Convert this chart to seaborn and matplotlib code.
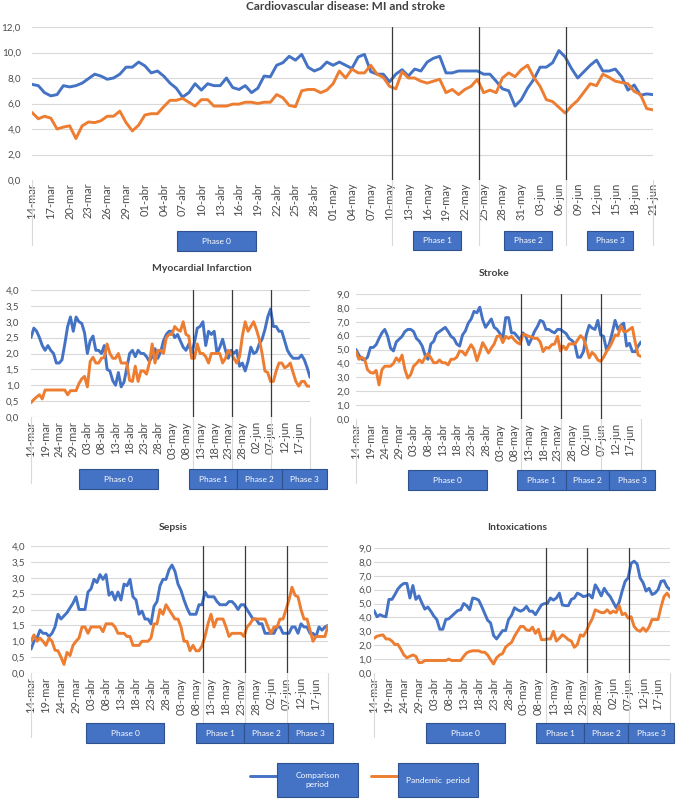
import numpy as np
import pandas as pd
import matplotlib
matplotlib.use("Agg")
import matplotlib.pyplot as plt
import seaborn as sns
from matplotlib.patches import Rectangle
from matplotlib.lines import Line2D
from matplotlib.ticker import FuncFormatter
import matplotlib.transforms as mtransforms

# ---------------- data ----------------
months = [("mar", 14, 31), ("abr", 1, 30), ("may", 1, 31), ("jun", 1, 21)]
dates = [f"{d:02d}-{m}" for m, a, b in months for d in range(a, b + 1)]

series_names = ["Comparison period", "Pandemic period"]

cv_comp = [7.5, 7.4, 6.85, 6.6, 6.7, 7.4, 7.3, 7.4, 7.6, 7.95,
           8.3, 8.15, 7.9, 8.0, 8.3, 8.85, 8.85, 9.25, 8.95, 8.4,
           8.55, 8.15, 7.6, 7.2, 6.5, 6.85, 7.55, 7.05, 7.55, 7.4,
           7.4, 8.0, 7.25, 7.1, 7.4, 6.85, 7.2, 8.15, 8.1, 9.0,
           9.2, 9.7, 9.4, 9.85, 8.85, 8.55, 8.75, 9.25, 9.0, 9.25,
           9.0, 8.75, 9.65, 9.85, 8.5, 8.3, 8.3, 7.7, 8.3, 8.65,
           8.15, 8.7, 8.55, 9.25, 9.55, 9.7, 8.4, 8.4, 8.55, 8.55,
           8.55, 8.55, 8.3, 8.3, 7.75, 7.15, 7.0, 5.8, 6.3, 7.2,
           7.9, 8.85, 8.85, 9.2, 10.15, 9.65, 8.75, 8.0, 8.5, 9.0,
           9.4, 8.55, 8.55, 8.7, 8.1, 7.05, 7.45, 6.65, 6.75, 6.7]
cv_pand = [5.3, 4.8, 5.0, 4.85, 4.0, 4.15, 4.25, 3.25, 4.25, 4.55,
           4.5, 4.65, 5.0, 5.0, 5.4, 4.5, 3.85, 4.3, 5.1, 5.2,
           5.2, 5.75, 6.25, 6.25, 6.4, 6.1, 5.8, 6.3, 6.3, 5.8,
           5.8, 5.8, 5.95, 5.95, 6.1, 6.1, 6.0, 6.1, 6.1, 6.7,
           6.45, 5.85, 5.75, 7.0, 7.1, 7.1, 6.85, 7.05, 7.55, 8.55,
           8.0, 8.7, 8.4, 8.4, 9.0, 8.3, 8.05, 7.35, 7.15, 8.5,
           8.0, 8.0, 7.75, 7.6, 7.75, 7.9, 6.85, 7.1, 6.7, 7.1,
           7.35, 7.9, 6.85, 7.05, 6.85, 8.0, 8.4, 8.1, 8.65, 9.0,
           8.05, 7.35, 6.3, 6.15, 5.7, 5.25, 5.8, 6.25, 6.9, 7.55,
           7.4, 8.3, 8.05, 7.75, 7.65, 7.55, 6.95, 6.7, 5.6, 5.5]

mi_comp = [2.5, 2.8, 2.7, 2.5, 2.25, 2.1, 2.25, 2.1, 2.0, 1.7,
           1.7, 1.8, 2.3, 2.85, 3.15, 2.7, 3.15, 3.0, 2.95, 2.65,
           2.0, 2.4, 2.55, 2.1, 2.1, 2.0, 2.25, 1.5, 1.45, 1.15,
           1.0, 1.4, 0.95, 1.1, 1.55, 2.0, 2.1, 1.9, 2.1, 2.0,
           2.0, 1.9, 1.75, 1.9, 2.15, 1.85, 2.05, 2.4, 2.6, 2.7,
           2.7, 2.5, 2.6, 2.4, 2.2, 2.1, 2.3, 2.0, 2.35, 2.8,
           2.85, 3.0, 2.25, 2.7, 2.6, 2.7, 2.0, 2.2, 2.45, 2.1,
           1.85, 2.1, 2.0, 2.1, 1.6, 1.7, 1.45, 1.75, 2.2, 2.0,
           2.05, 2.3, 2.45, 2.75, 3.15, 3.4, 2.85, 2.85, 2.7, 2.7,
           2.4, 2.1, 1.95, 1.85, 1.85, 1.85, 1.95, 1.8, 1.55, 1.25]
mi_pand = [0.45, 0.55, 0.63, 0.7, 0.57, 0.85, 0.85, 0.85, 0.85, 0.85,
           0.85, 0.85, 0.85, 0.7, 0.83, 0.83, 0.83, 1.05, 1.2, 1.28,
           0.95, 1.75, 1.88, 1.7, 1.7, 1.85, 1.88, 2.3, 2.0, 1.85,
           1.85, 2.0, 1.7, 1.7, 1.7, 1.15, 1.12, 1.6, 1.12, 1.45,
           1.45, 1.35, 1.7, 2.3, 1.7, 2.1, 2.1, 2.0, 2.5, 2.6,
           2.6, 2.85, 2.75, 2.7, 3.0, 2.6, 2.55, 1.85, 1.85, 2.3,
           2.0, 2.0, 1.9, 1.7, 2.0, 2.0, 2.0, 2.0, 1.7, 1.85,
           2.1, 2.0, 1.85, 1.7, 1.9, 2.55, 3.0, 2.7, 2.85, 3.0,
           2.75, 2.45, 2.0, 1.45, 1.4, 1.12, 1.12, 1.45, 1.7, 1.7,
           1.55, 1.6, 1.7, 1.4, 1.12, 0.97, 1.12, 1.12, 0.97, 0.97]

st_comp = [5.0, 4.6, 4.3, 4.25, 4.45, 5.15, 5.15, 5.35, 5.8, 6.2,
           6.45, 5.95, 5.1, 4.9, 5.55, 5.75, 5.95, 6.3, 6.45, 6.45,
           6.3, 5.8, 5.6, 5.25, 4.6, 4.3, 5.4, 5.6, 6.15, 6.3,
           6.45, 6.6, 6.3, 5.95, 5.8, 5.4, 5.25, 6.05, 6.35, 6.9,
           7.2, 7.75, 7.65, 8.05, 7.15, 6.6, 6.9, 7.2, 6.6, 6.45,
           6.15, 5.8, 7.3, 7.3, 6.2, 6.2, 5.95, 5.7, 6.2, 5.95,
           5.35, 5.8, 6.3, 6.65, 7.1, 7.0, 6.45, 6.45, 6.3, 6.2,
           6.45, 6.45, 6.3, 6.15, 5.8, 5.65, 5.4, 4.45, 4.45, 4.85,
           6.05, 6.75, 6.55, 6.45, 7.1, 6.05, 5.95, 5.0, 5.4, 6.2,
           7.1, 6.45, 6.75, 6.9, 5.25, 5.45, 4.85, 4.85, 5.25, 5.55]
st_pand = [4.85, 4.3, 4.45, 4.3, 3.55, 3.35, 3.3, 3.5, 2.45, 3.55,
           3.8, 3.8, 3.8, 4.0, 4.4, 4.15, 4.6, 3.55, 2.95, 3.2,
           3.8, 4.0, 4.25, 4.05, 4.45, 4.7, 4.4, 4.05, 4.05, 4.25,
           4.05, 4.05, 3.9, 4.3, 4.3, 4.45, 4.9, 4.85, 4.6, 5.0,
           5.35, 5.0, 4.2, 4.8, 5.5, 5.15, 4.75, 5.1, 5.4, 5.95,
           6.0, 5.5, 5.95, 5.8, 5.95, 5.7, 5.5, 5.4, 6.1, 6.05,
           5.95, 5.9, 5.8, 5.8, 5.55, 4.85, 5.15, 5.1, 5.35, 5.4,
           5.95, 4.9, 5.25, 5.0, 5.4, 5.4, 5.4, 5.7, 6.0, 5.8,
           5.2, 4.4, 4.8, 4.6, 4.25, 4.15, 4.45, 4.85, 5.15, 5.55,
           6.05, 6.0, 6.7, 6.3, 6.3, 6.45, 6.6, 5.5, 4.6, 4.5]

se_comp = [0.75, 1.0, 1.1, 1.35, 1.25, 1.25, 1.15, 1.25, 1.45, 1.85,
           1.7, 1.8, 1.9, 2.05, 2.2, 2.4, 2.0, 2.0, 2.0, 2.55,
           2.65, 2.95, 2.85, 3.1, 2.95, 3.1, 2.45, 2.55, 2.3, 2.55,
           2.3, 2.8, 2.75, 2.95, 2.4, 2.3, 1.85, 1.95, 1.7, 1.7,
           1.55, 2.1, 2.25, 2.75, 2.95, 2.95, 3.25, 3.4, 3.2, 2.8,
           2.6, 2.3, 2.05, 1.85, 1.85, 1.85, 2.15, 2.15, 2.55, 2.4,
           2.4, 2.4, 2.25, 2.15, 2.15, 2.15, 2.25, 2.25, 2.15, 2.0,
           2.15, 2.15, 2.0, 1.85, 1.7, 1.7, 1.55, 1.55, 1.25, 1.25,
           1.25, 1.25, 1.45, 1.45, 1.25, 1.25, 1.25, 1.45, 1.45, 1.25,
           1.55, 1.45, 1.45, 1.25, 1.25, 1.15, 1.45, 1.35, 1.45, 1.5]
se_pand = [1.0, 1.2, 1.0, 1.1, 1.0, 0.87, 1.1, 1.0, 0.72, 0.7,
           0.5, 0.27, 0.65, 0.55, 0.87, 1.0, 1.1, 1.45, 1.45, 1.25,
           1.45, 1.45, 1.45, 1.45, 1.3, 1.55, 1.55, 1.55, 1.45, 1.25,
           1.25, 1.25, 1.15, 1.15, 0.87, 0.87, 0.87, 1.0, 1.0, 1.0,
           1.1, 1.55, 1.55, 2.0, 1.85, 2.15, 2.0, 1.85, 1.7, 1.7,
           1.45, 1.0, 1.0, 0.7, 0.87, 0.7, 0.7, 0.85, 1.15, 1.55,
           1.85, 1.45, 1.7, 1.7, 1.7, 1.45, 1.15, 1.25, 1.25, 1.25,
           1.25, 1.15, 1.45, 1.55, 1.7, 1.7, 1.7, 1.7, 1.7, 1.45,
           1.25, 1.45, 1.45, 1.7, 1.7, 2.0, 2.3, 2.7, 2.45, 2.4,
           2.0, 1.7, 1.7, 1.35, 1.0, 1.15, 1.15, 1.15, 1.15, 1.5]

in_comp = [4.5, 4.05, 4.2, 4.1, 4.05, 5.3, 5.3, 5.65, 6.05, 6.3,
           6.45, 6.45, 5.4, 6.3, 5.3, 5.55, 5.05, 4.6, 4.75, 4.45,
           4.1, 3.85, 3.15, 3.15, 3.85, 3.9, 4.1, 4.3, 4.5, 4.55,
           5.0, 4.85, 4.55, 5.4, 5.35, 5.25, 4.8, 4.3, 3.8, 3.6,
           2.7, 2.45, 2.75, 3.05, 3.05, 3.85, 4.15, 4.7, 4.55, 4.45,
           4.55, 4.8, 4.45, 4.45, 4.2, 4.55, 4.9, 5.0, 5.0, 5.4,
           5.25, 5.4, 5.75, 4.9, 4.85, 4.85, 5.3, 5.4, 5.75, 5.65,
           5.5, 5.55, 5.65, 5.4, 6.35, 6.0, 5.55, 6.1, 5.75, 5.5,
           5.1, 4.7, 5.1, 5.9, 6.6, 6.85, 7.9, 8.05, 7.85, 6.85,
           6.5, 5.9, 6.1, 5.65, 5.75, 6.0, 6.6, 6.65, 6.2, 6.0]
in_pand = [2.5, 2.65, 2.7, 2.75, 2.45, 2.45, 2.3, 2.05, 2.05, 1.7,
           1.3, 1.1, 1.2, 1.3, 1.2, 0.75, 0.75, 0.9, 0.9, 0.9,
           0.9, 0.9, 0.9, 0.9, 0.9, 1.0, 0.9, 0.9, 0.9, 0.9,
           1.2, 1.45, 1.55, 1.6, 1.6, 1.6, 1.5, 1.5, 1.3, 0.95,
           0.65, 1.1, 1.3, 1.4, 1.85, 2.05, 2.2, 2.65, 3.0, 3.35,
           3.35, 3.1, 3.05, 3.3, 2.85, 3.15, 2.4, 2.4, 2.45, 2.45,
           3.0, 2.3, 2.5, 2.75, 2.6, 2.4, 2.3, 1.85, 2.05, 2.75,
           2.65, 3.0, 3.5, 3.9, 4.55, 4.45, 4.35, 4.35, 4.55, 4.3,
           4.45, 4.35, 4.85, 4.2, 4.3, 3.95, 4.05, 3.35, 3.1, 3.0,
           3.25, 3.0, 3.3, 3.85, 3.85, 3.85, 4.75, 5.5, 5.75, 5.45]

phase_labels = ["Phase 0", "Phase 1", "Phase 2", "Phase 3"]
phase_lines = [57.4, 71.3, 85.2]

# ---------------- style ----------------
sns.set_theme(style="white")
plt.rcParams['font.family'] = ['Lato', 'DejaVu Sans']

BLUE = "#4472C4"
ORANGE = "#ED7D31"
BOX = "#4472C4"
BOX_EDGE = "#2F528F"
TXT = "#4D4D4D"
GRID = "#D9D9D9"
palette = {series_names[0]: BLUE, series_names[1]: ORANGE}
LW = 2.1

W, H = 676, 799
fig = plt.figure(figsize=(W / 100, H / 100), dpi=100)
fig.patch.set_facecolor("white")


def px_axes(x0, y0, x1, y1):
    return fig.add_axes([x0 / W, 1 - y1 / H, (x1 - x0) / W, (y1 - y0) / H])


def px_box(x0, y0, x1, y1, text, fs=6):
    r = Rectangle((x0 / W, 1 - y1 / H), (x1 - x0) / W, (y1 - y0) / H,
                  transform=fig.transFigure, facecolor=BOX, edgecolor=BOX_EDGE,
                  lw=0.8, zorder=5)
    fig.add_artist(r)
    fig.text((x0 + x1) / 2 / W, 1 - (y0 + y1) / 2 / H, text, color="white",
             fontsize=fs, ha="center", va="center", zorder=6, linespacing=1.3)


def panel(rect, comp, pand, ymax, ystep, every, title, title_xy, title_fs, ypad, xpad,
          boxes, sep_depth):
    ax = px_axes(*rect)
    n = len(dates)
    df = pd.DataFrame({
        "idx": list(range(n)) * 2,
        "value": list(comp) + list(pand),
        "period": [series_names[0]] * n + [series_names[1]] * n,
    })
    sns.lineplot(data=df, x="idx", y="value", hue="period",
                 hue_order=series_names, palette=palette, linewidth=LW,
                 legend=False, ax=ax, zorder=3)
    ax.set_xlim(0, n - 1)
    ax.set_ylim(0, ymax)
    ax.set_yticks(np.arange(0, ymax + ystep / 2, ystep))
    ax.yaxis.set_major_formatter(FuncFormatter(lambda v, p: f"{v:.1f}".replace(".", ",")))
    ticks = list(range(0, n, every))
    ax.set_xticks(ticks)
    ax.set_xticklabels([dates[i] for i in ticks], rotation=90)
    ax.set_xlabel("")
    ax.set_ylabel("")
    ax.grid(axis="y", color=GRID, lw=0.8, zorder=0)
    ax.grid(axis="x", visible=False)
    for s in ax.spines.values():
        s.set_visible(False)
    ax.tick_params(axis="y", length=0, labelsize=7, colors=TXT, pad=ypad)
    ax.tick_params(axis="x", length=0, labelsize=8, colors=TXT, pad=xpad)
    for xv in phase_lines:
        ax.axvline(xv, color="#3A3A3A", lw=0.9, zorder=4)
    trans = mtransforms.blended_transform_factory(ax.transData, ax.transAxes)
    for xv in [0] + phase_lines + [n - 1]:
        ax.add_line(Line2D([xv, xv], [0, -sep_depth], transform=trans,
                           color=GRID, lw=0.8, clip_on=False))
    fig.text(title_xy[0] / W, 1 - title_xy[1] / H, title, fontsize=title_fs,
             fontweight="bold", color="#404040", ha="center", va="center")
    for (bx0, by0, bx1, by1), lab in zip(boxes, phase_labels):
        px_box(bx0, by0, bx1, by1, lab)
    return ax


panel((32, 27, 653, 180), cv_comp, cv_pand, 12, 2, 3,
      "Cardiovascular disease: MI and stroke", (346, 6), 8.5, 8, 2,
      [(177, 231, 256, 251), (413, 231, 461, 250), (504, 231, 552, 250), (587, 231, 633, 250)],
      65 / 153)

panel((31, 290, 310, 417), mi_comp, mi_pand, 4, 0.5, 5,
      "Myocardial Infarction", (202, 268), 7.5, 8.5, 3,
      [(79, 469, 158, 489), (189, 469, 237, 489), (237, 469, 282, 489), (282, 469, 327, 489)],
      66 / 127)

panel((356, 294, 641, 419), st_comp, st_pand, 9, 1, 5,
      "Stroke", (494, 274), 7.5, 4.3, 3,
      [(408, 470, 487, 490), (517, 470, 566, 490), (566, 470, 609, 490), (609, 470, 655, 490)],
      64 / 125)

panel((31, 546, 328, 673), se_comp, se_pand, 4, 0.5, 5,
      "Sepsis", (173, 527), 7.5, 4.3, 3,
      [(86, 723, 164, 743), (196, 723, 244, 743), (244, 723, 288, 743), (288, 723, 333, 743)],
      64 / 127)

panel((374, 548, 670, 673), in_comp, in_pand, 9, 1, 5,
      "Intoxications", (517, 528), 7.5, 1.5, 3,
      [(426, 723, 505, 743), (536, 723, 584, 743), (584, 723, 628, 743), (628, 723, 674, 743)],
      64 / 125)

# legend (custom: line sample + blue label box)
fig.add_artist(Line2D([250 / W, 277 / W], [1 - 776 / H, 1 - 776 / H], color=BLUE, lw=LW,
                      transform=fig.transFigure))
px_box(277, 763, 358, 797, "Comparison\nperiod", fs=6)
fig.add_artist(Line2D([371 / W, 398 / W], [1 - 776 / H, 1 - 776 / H], color=ORANGE, lw=LW,
                      transform=fig.transFigure))
px_box(398, 763, 478, 797, "Pandemic  period", fs=6)

fig.savefig("out.png", dpi=100, facecolor="white")
